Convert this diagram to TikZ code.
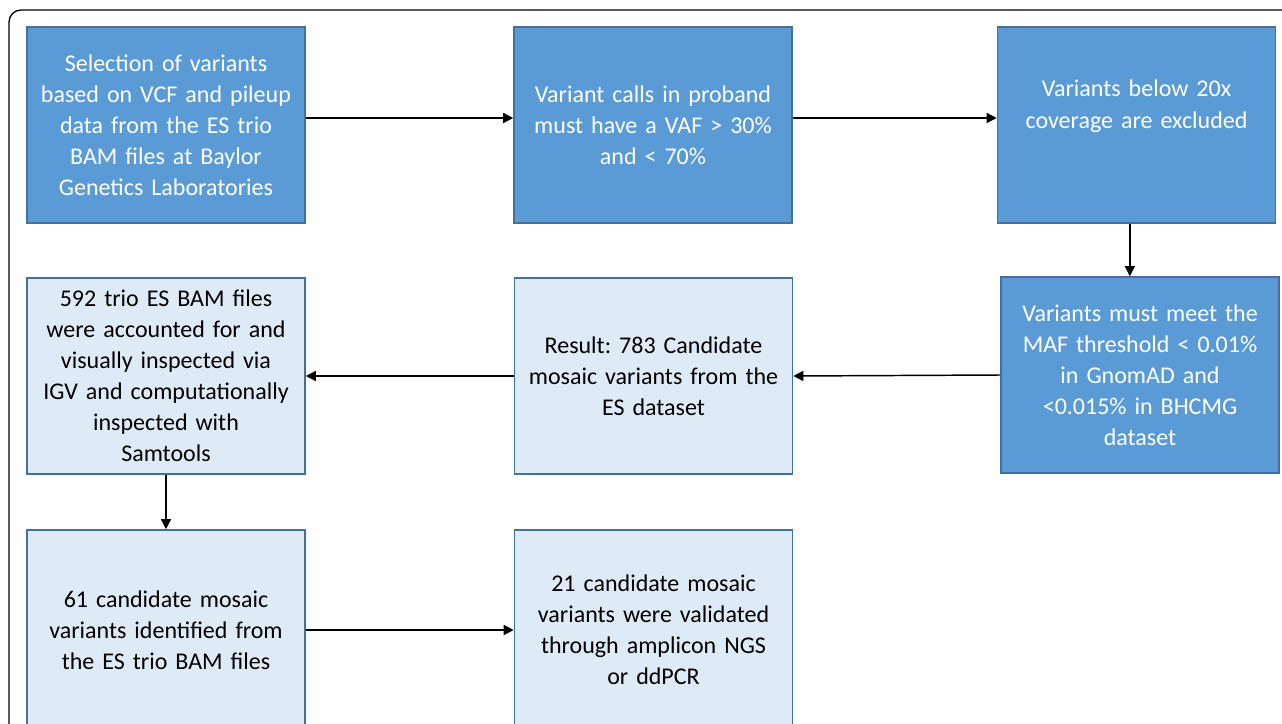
\documentclass[tikz,border=0pt]{standalone}
\usepackage{fontspec}
\setmainfont{Carlito}
\usepackage{xcolor}
\usepackage{tikz}
\usetikzlibrary{arrows.meta}
\definecolor{darkfill}{HTML}{5B9BD5}
\definecolor{lightfill}{HTML}{DEEBF7}
\definecolor{edge}{HTML}{41719C}
\frenchspacing
\tikzset{
  stagebox/.style={draw=edge, line width=1.2pt, rectangle, inner sep=0pt,
    minimum width=208.5pt, minimum height=147pt, text width=205pt, align=center,
    font=\fontsize{18}{23.3}\selectfont},
  darkbox/.style={stagebox, fill=darkfill, text=white},
  lightbox/.style={stagebox, fill=lightfill, text=black},
  flow/.style={draw=black, line width=1.1pt, -{Triangle[length=7.5pt,width=7.5pt]}},
  frame/.style={draw=black, line width=1pt, rounded corners=9pt}
}

\begin{document}
\begin{tikzpicture}[x=0.75pt, y=-0.75pt]
  \useasboundingbox (0,0) rectangle (1282,724);
  \clip (0,0) rectangle (1282,724);

  % Frame
  \draw[frame] (9,10) rectangle (1320,760);

  % Top row
  \node[darkbox] (b1) at (166,125) {Selection of variants\\based on VCF and pileup\\data from the ES trio\\BAM files at Baylor\\Genetics Laboratories};
  \node[darkbox] (b2) at (653,125) {Variant calls in proband\\must have a VAF > 30\%\\and < 70\%};
  \node[darkbox, text depth=54.5pt] (b3) at (1136.5,125) {Variants below 20x\\coverage are excluded};

  % Middle row
  \node[darkbox] (b4) at (1140,375) {Variants must meet the\\MAF threshold < 0.01\%\\in GnomAD and\\<0.015\% in BHCMG\\dataset};
  \node[lightbox] (b5) at (653.5,376) {Result: 783 Candidate\\mosaic variants from the\\ES dataset};
  \node[lightbox] (b6) at (166,376) {592 trio ES BAM files\\were accounted for and\\visually inspected via\\IGV and computationally\\inspected with\\Samtools};

  % Bottom row
  \node[lightbox, minimum height=150pt] (b7) at (166,630) {61 candidate mosaic\\variants identified from\\the ES trio BAM files};
  \node[lightbox, minimum height=150pt] (b8) at (653.5,630) {21 candidate mosaic\\variants were validated\\through amplicon NGS\\or ddPCR};

  % Arrows
  \draw[flow] ([yshift=5.25pt]b1.east) -- ([yshift=5.25pt]b2.west);
  \draw[flow] ([yshift=5.25pt]b2.east) -- ([yshift=5.25pt]b3.west);
  \draw[flow] ([xshift=-5pt]b3.south) -- ([xshift=-5pt]b3.south |- b4.north);
  \draw[flow] (b4.west) -- (b5.east);
  \draw[flow] (b5.west) -- (b6.east);
  \draw[flow] (b6.south) -- (b7.north);
  \draw[flow] (b7.east) -- (b8.west);
\end{tikzpicture}
\end{document}
